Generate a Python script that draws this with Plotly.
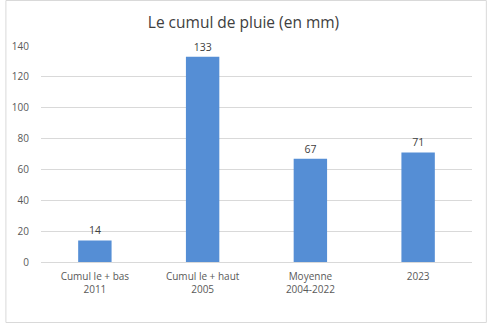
import plotly.graph_objects as go

categories = ["Cumul le + bas<br>2011", "Cumul le + haut<br>2005", "Moyenne<br>2004-2022", "2023"]
values = [14, 133, 67, 71]
y_ticks = [0, 20, 40, 60, 80, 100, 120, 140]

W, H = 487, 323
ML, MR, MT, MB = 36, 15, 46, 61
pw, ph = W - ML - MR, H - MT - MB

fig = go.Figure(go.Bar(
    x=categories, y=values,
    marker=dict(color="#558ED5", line=dict(width=0)),
    width=0.31,
    text=[str(v) for v in values],
    textposition="outside",
    textfont=dict(family="Open Sans, sans-serif", size=10.5, color="#404040"),
    cliponaxis=False,
))

fig.update_layout(
    width=W, height=H,
    margin=dict(l=ML, r=MR, t=MT, b=MB, pad=0),
    paper_bgcolor="white", plot_bgcolor="white",
    showlegend=False,
    title=dict(text="Le cumul de pluie (en mm)", x=0.5, xanchor="center",
               y=1 - 23 / H, yanchor="middle",
               font=dict(family="Open Sans, sans-serif", size=15.5, color="#404040")),
    font=dict(family="Open Sans, sans-serif", size=10, color="#595959"),
    bargap=0.69,
)
fig.update_yaxes(range=[0, 140], tickvals=y_ticks, showgrid=True, gridcolor="#D9D9D9",
                 gridwidth=1, zeroline=False, showline=False, ticks="",
                 ticklabelstandoff=11, fixedrange=True)
fig.update_xaxes(showline=True, linecolor="#D9D9D9", linewidth=1, ticks="",
                 ticklabelstandoff=5, fixedrange=True)

# chart border
fig.add_shape(type="rect", xref="paper", yref="paper",
              x0=(0.5 - ML) / pw, x1=(W - 0.5 - ML) / pw,
              y0=(0.5 - MB) / ph, y1=(H - 0.5 - MB) / ph,
              line=dict(color="#D9D9D9", width=1), fillcolor="rgba(0,0,0,0)")

fig.write_html("out.html")
